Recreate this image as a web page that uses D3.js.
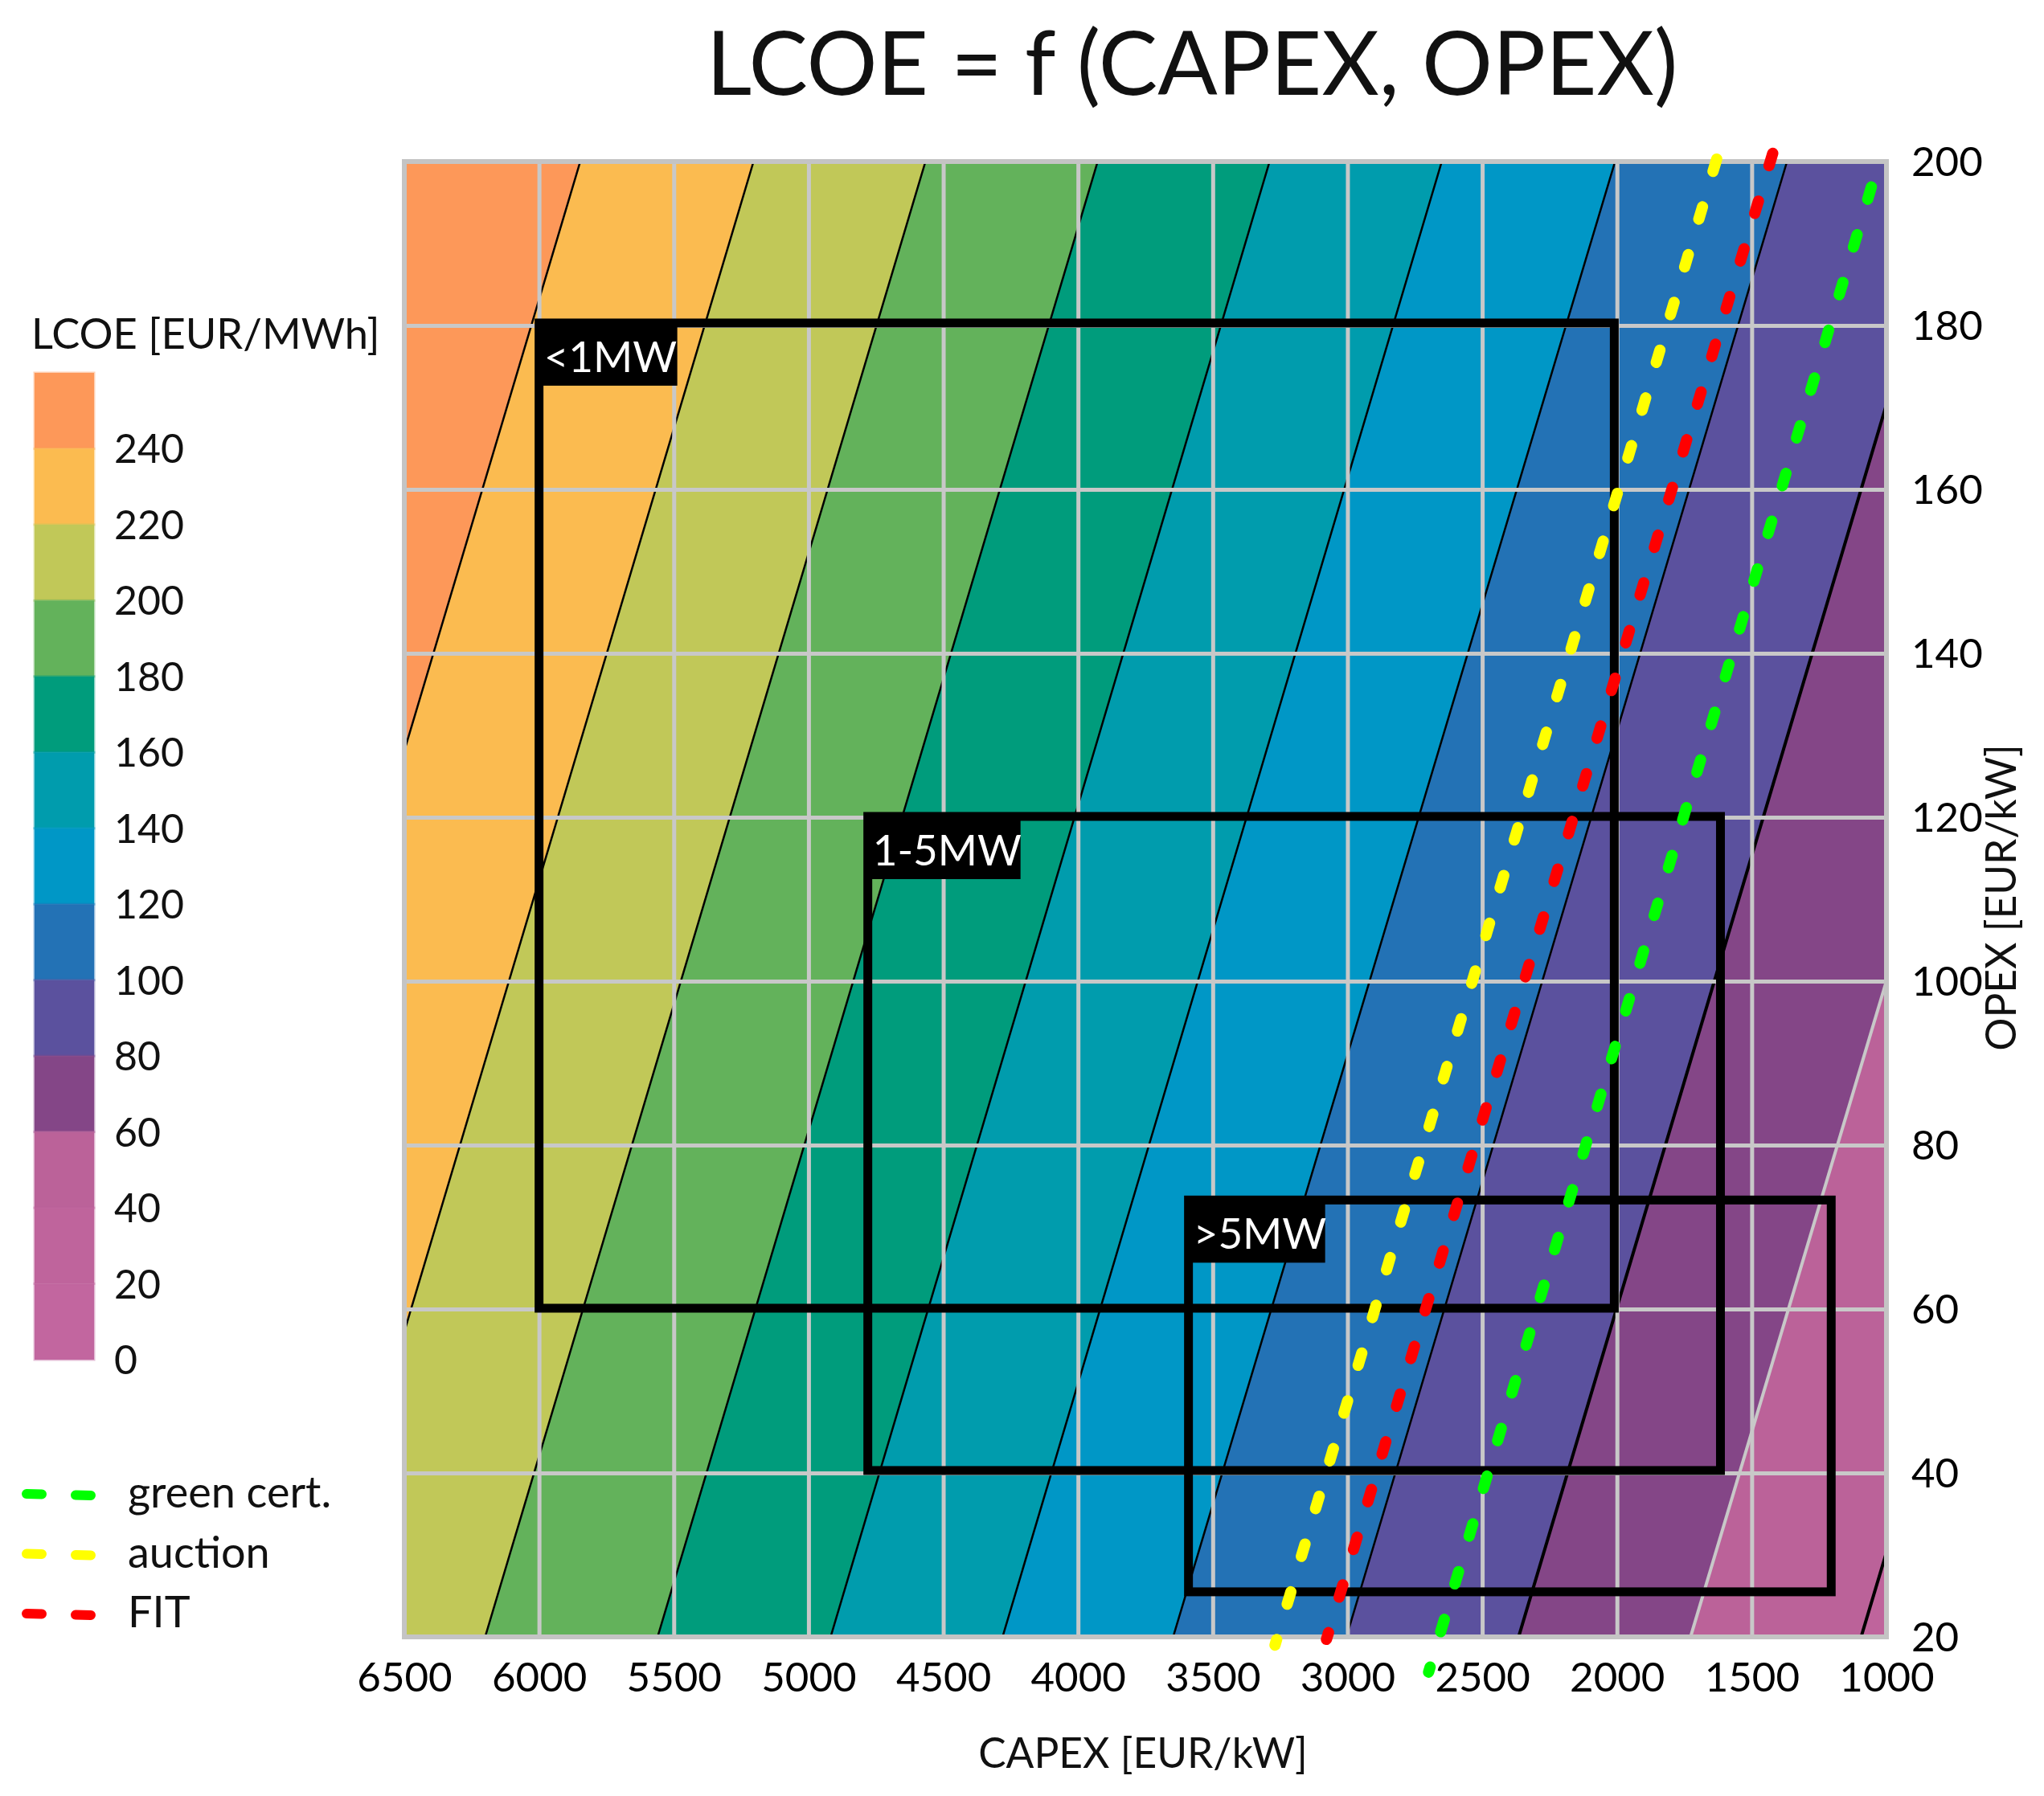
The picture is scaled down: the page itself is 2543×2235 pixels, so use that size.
<!DOCTYPE html>
<html>
<head>
<meta charset="utf-8">
<script src="https://cdn.jsdelivr.net/npm/d3@7"></script>
<style>
  body { margin: 0; background: #fff; }
  text { font-family: Lato, "Open Sans", sans-serif; fill: #111; }
</style>
</head>
<body>
<svg></svg>
<script>
// contour lines, read where they enter at the bottom and the top of the plot
var levelValues = [240, 220, 200, 180, 160, 140, 120, 100, 80, 60, 40];
var capexAtOpex20 = [7482, 6838, 6200, 5560, 4918, 4280, 3647, 3004, 2365, 1727, 1094];
var capexAtOpex200 = [5847, 5204, 4566, 3927, 3289, 2650, 2007, 1369, 731, 92, -546];

// top of legend first
var bandColors = ["#fd9859", "#fbbb50", "#c1c858", "#63b25b", "#009c7c", "#009cad", "#0097c6",
                  "#2372b5", "#5b519e", "#844687", "#bb6299", "#bf649c", "#c2669f"];
var legendLabels = [240, 220, 200, 180, 160, 140, 120, 100, 80, 60, 40, 20, 0];

var capexTicks = [6500, 6000, 5500, 5000, 4500, 4000, 3500, 3000, 2500, 2000, 1500, 1000];
var opexTicks = [20, 40, 60, 80, 100, 120, 140, 160, 180, 200];

// size classes: capex left, capex right, opex top, opex bottom
var boxNames = ["<1MW", "1-5MW", ">5MW"];
var boxCapexLeft = [6000, 4780, 3590];
var boxCapexRight = [2010, 1616, 1205];
var boxOpexTop = [180.3, 120.1, 73.3];
var boxOpexBottom = [60.1, 40.3, 25.5];

// support lines, each from its upper end to its lower end
var supportNames = ["green cert.", "auction", "FIT"];
var supportColors = ["#00ff00", "#ffff00", "#ff0000"];
var supportCapexTop = [1056, 1630, 1422];
var supportOpexTop = [196.9, 200.3, 201];
var supportCapexBottom = [2699, 3269, 3078];
var supportOpexBottom = [15.7, 19, 19.7];

var svgWidth = 2543, svgHeight = 2235;
var left = 503, right = 2347, top_ = 201, bottom = 2037;

var svg = d3.select("svg")
    .attr("width", svgWidth)
    .attr("height", svgHeight)
    .style("display", "block");

var x = d3.scaleLinear().domain([6500, 1000]).range([left, right]);
var y = d3.scaleLinear().domain([20, 200]).range([bottom, top_]);
var line = d3.line()
    .x(function (d) { return x(d[0]); })
    .y(function (d) { return y(d[1]); });

svg.append("clipPath").attr("id", "plot")
  .append("rect")
    .attr("x", left).attr("y", top_)
    .attr("width", right - left).attr("height", bottom - top_);

var bands = svg.append("g").attr("clip-path", "url(#plot)");
bands.append("rect")
    .attr("x", left).attr("y", top_)
    .attr("width", right - left).attr("height", bottom - top_)
    .attr("fill", bandColors[0]);

// each band runs from its contour to far past the right edge, painted left to right
var farCapex = -3000;
bands.selectAll("path.band")
    .data(levelValues)
    .enter()
    .append("path")
    .attr("class", "band")
    .attr("fill", function (d, i) { return bandColors[i + 1]; })
    .attr("d", function (d, i) {
        return line([[capexAtOpex20[i], 20], [capexAtOpex200[i], 200], [farCapex, 200], [farCapex, 20]]) + "Z";
    });

bands.selectAll("path.contour")
    .data(levelValues)
    .enter()
    .append("path")
    .attr("class", "contour")
    .attr("fill", "none")
    .attr("stroke", function (d) { return d == 60 ? "#c8c8c8" : "#000"; })
    .attr("stroke-width", function (d) { return d == 80 || d == 40 ? 4 : d == 60 ? 4 : 2.5; })
    .attr("d", function (d, i) {
        return line([[capexAtOpex20[i], 20], [capexAtOpex200[i], 200]]);
    });

// grid
var gridX = svg.append("g")
    .attr("transform", "translate(0," + bottom + ")")
    .call(d3.axisBottom(x).tickValues(capexTicks).tickSize(-(bottom - top_)).tickFormat(""));
var gridY = svg.append("g")
    .attr("transform", "translate(" + left + ",0)")
    .call(d3.axisLeft(y).tickValues(opexTicks).tickSize(-(right - left)).tickFormat(""));
[gridX, gridY].forEach(function (g) {
    g.select(".domain").remove();
    g.selectAll("line").attr("stroke", "#c8c8c8").attr("stroke-width", 5);
});

svg.append("rect")
    .attr("x", left).attr("y", top_)
    .attr("width", right - left).attr("height", bottom - top_)
    .attr("fill", "none")
    .attr("stroke", "#c4c4c4")
    .attr("stroke-width", 6);

// axes
var xAxis = svg.append("g")
    .attr("transform", "translate(0," + bottom + ")")
    .call(d3.axisBottom(x).tickValues(capexTicks).tickSize(0).tickPadding(32).tickFormat(d3.format("d")));
var yAxis = svg.append("g")
    .attr("transform", "translate(" + (right + 31) + ",1)")
    .call(d3.axisRight(y).tickValues(opexTicks).tickSize(0).tickPadding(0));
[xAxis, yAxis].forEach(function (g) {
    g.select(".domain").remove();
    g.selectAll("text").style("font-size", "51px").style("font-family", "Lato").style("fill", "#000");
});

// size class boxes
svg.selectAll("rect.box")
    .data(boxNames)
    .enter()
    .append("rect")
    .attr("class", "box")
    .attr("x", function (d, i) { return x(boxCapexLeft[i]); })
    .attr("y", function (d, i) { return y(boxOpexTop[i]); })
    .attr("width", function (d, i) { return x(boxCapexRight[i]) - x(boxCapexLeft[i]); })
    .attr("height", function (d, i) { return y(boxOpexBottom[i]) - y(boxOpexTop[i]); })
    .attr("fill", "none")
    .attr("stroke", "#000")
    .attr("stroke-width", 11);

var tagWidth = [172, 190, 170];
svg.selectAll("rect.tag")
    .data(boxNames)
    .enter()
    .append("rect")
    .attr("class", "tag")
    .attr("x", function (d, i) { return x(boxCapexLeft[i]); })
    .attr("y", function (d, i) { return y(boxOpexTop[i]); })
    .attr("width", function (d, i) { return tagWidth[i]; })
    .attr("height", 78)
    .attr("fill", "#000");
svg.selectAll("text.tag")
    .data(boxNames)
    .enter()
    .append("text")
    .attr("class", "tag")
    .attr("x", function (d, i) { return x(boxCapexLeft[i]) + 6; })
    .attr("y", function (d, i) { return y(boxOpexTop[i]) + 61; })
    .style("fill", "#fff")
    .style("font-size", "53px")
    .text(function (d) { return d; });

// support lines
svg.selectAll("path.support")
    .data(supportNames)
    .enter()
    .append("path")
    .attr("class", "support")
    .attr("fill", "none")
    .attr("stroke", function (d, i) { return supportColors[i]; })
    .attr("stroke-width", 14)
    .attr("stroke-linecap", "round")
    .attr("stroke-dasharray", "16 46")
    .attr("d", function (d, i) {
        return line([[supportCapexTop[i], supportOpexTop[i]], [supportCapexBottom[i], supportOpexBottom[i]]]);
    });

// colour legend
var legendY = d3.scaleLinear().domain([0, 260]).range([1692, 464]);
svg.selectAll("rect.legend")
    .data(bandColors)
    .enter()
    .append("rect")
    .attr("class", "legend")
    .attr("x", 43)
    .attr("width", 74)
    .attr("y", function (d, i) { return legendY(260 - i * 20); })
    .attr("height", legendY(0) - legendY(20))
    .attr("fill", function (d) { return d; })
    .attr("stroke", function (d) { return d; })
    .attr("stroke-opacity", 0.45)
    .attr("stroke-width", 3);
svg.selectAll("text.legend")
    .data(legendLabels)
    .enter()
    .append("text")
    .attr("class", "legend")
    .attr("x", 142)
    .attr("y", function (d) { return legendY(d) + 18; })
    .style("font-size", "50px")
    .text(function (d) { return d; });
svg.append("text")
    .attr("x", 39).attr("y", 434)
    .style("font-size", "52.5px")
    .text("LCOE [EUR/MWh]");

// line legend
var keyY = d3.scalePoint().domain(supportNames).range([1859, 2008]);
svg.selectAll("path.key")
    .data(supportNames)
    .enter()
    .append("path")
    .attr("class", "key")
    .attr("fill", "none")
    .attr("stroke", function (d, i) { return supportColors[i]; })
    .attr("stroke-width", 12)
    .attr("stroke-linecap", "round")
    .attr("stroke-dasharray", "19 42")
    .attr("d", function (d) { return "M33," + keyY(d) + "L115," + (keyY(d) + 2); });
svg.selectAll("text.key")
    .data(supportNames)
    .enter()
    .append("text")
    .attr("class", "key")
    .attr("x", 159)
    .attr("y", function (d) { return keyY(d) + 17; })
    .style("font-size", "54px")
    .text(function (d) { return d; });

// titles
svg.append("text")
    .attr("x", 1483).attr("y", 118)
    .attr("text-anchor", "middle")
    .style("font-size", "110px")
    .text("LCOE = f (CAPEX, OPEX)");
svg.append("text")
    .attr("x", 1422).attr("y", 2200)
    .attr("text-anchor", "middle")
    .style("font-size", "51.5px")
    .text("CAPEX [EUR/kW]");
svg.append("text")
    .attr("transform", "translate(2508,1117) rotate(-90)")
    .attr("text-anchor", "middle")
    .style("font-size", "51.5px")
    .text("OPEX [EUR/kW]");
</script>
</body>
</html>
